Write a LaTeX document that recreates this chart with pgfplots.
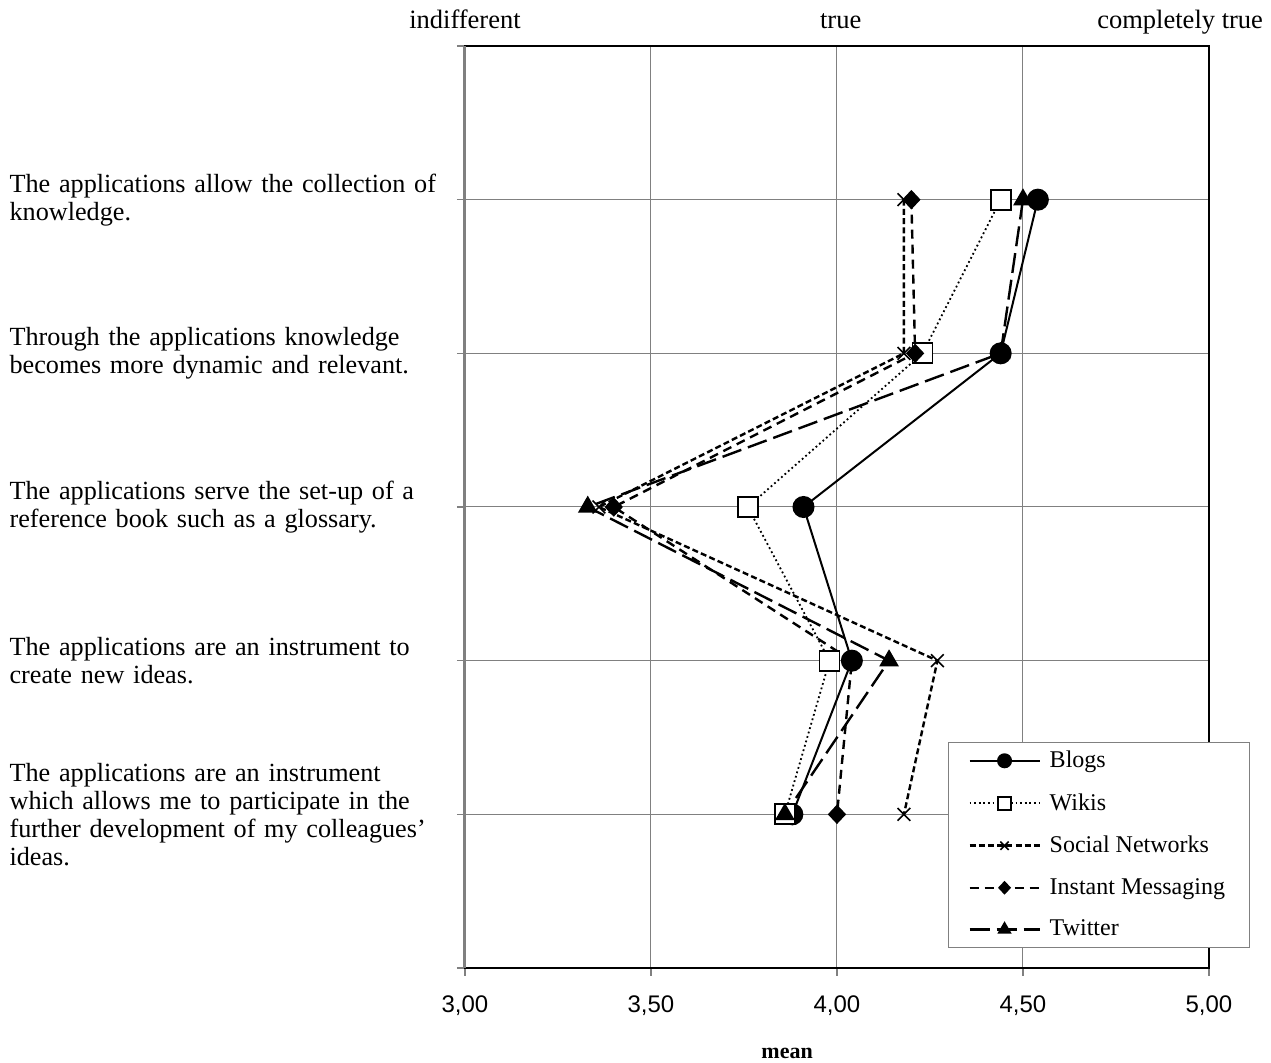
\documentclass[border=0pt]{standalone}
\usepackage{fontspec}
\setmainfont{Liberation Serif}
\newfontfamily\arial{Liberation Sans}
\usepackage{pgfplots}
\pgfplotsset{compat=1.18}
\definecolor{gridgray}{RGB}{128,128,128}
\begin{document}
\begin{tikzpicture}
\useasboundingbox (-232.5pt,-47.5pt) rectangle (403pt,484pt);
\begin{axis}[
  at={(0,0)}, anchor=south west,
  scale only axis, width=372pt, height=461pt,
  xmin=3, xmax=5, ymin=0, ymax=6, y dir=reverse,
  clip=false,
  xtick={3,3.5,4,4.5,5},
  ytick={0,1,2,3,4,5,6},
  yticklabels={{},
    {The applications allow the collection of\\knowledge.},
    {Through the applications knowledge\\becomes more dynamic and relevant.},
    {The applications serve the set-up of a\\reference book such as a glossary.},
    {The applications are an instrument to\\create new ideas.},
    {The applications are an instrument\\which allows me to participate in the\\further development of my colleagues'\\ideas.},
    {}},
  yticklabel style={anchor=east, align=left, text width=225pt, inner sep=0pt, xshift=1.5pt,
    font=\fontsize{13.1}{14}\selectfont},
  xticklabel style={anchor=base, yshift=-18.5pt, font=\arial\fontsize{12}{14}\selectfont},
  /pgf/number format/.cd, fixed, fixed zerofill, precision=2, use comma, assume math mode=true,
  /pgfplots/.cd,
  tick align=outside, tick pos=left,
  major tick length=4pt,
  tick style={gridgray, line width=0.75pt},
  grid=major,
  major grid style={gridgray, line width=0.5pt},
  axis line style={black, line width=1pt},
  legend style={at={(0.649,0.0217)}, anchor=south west, draw=gridgray, line width=0.5pt,
    fill=white, font=\fontsize{12}{14}\selectfont, inner xsep=10pt, inner ysep=2.3pt,
    row sep=7.4pt, column sep=2.5pt},
  legend cell align=left,
  legend image code/.code={\draw[mark repeat=2,mark phase=2,#1,every mark/.append style={scale=0.65}]
    plot coordinates {(1.5pt,0pt) (19pt,0pt) (36.5pt,0pt)};},
]
\addplot[black, line width=1pt, mark=*, mark size=5pt, mark options={solid, fill=black}]
  coordinates {(4.54,1) (4.44,2) (3.91,3) (4.04,4) (3.88,5)};
\addlegendentry{Blogs}
\addplot[black, line width=0.9pt, dash pattern=on 0.9pt off 1.4pt, mark=square*, mark size=5pt,
  mark options={solid, fill=white, line width=0.9pt}]
  coordinates {(4.44,1) (4.23,2) (3.76,3) (3.98,4) (3.86,5)};
\addlegendentry{Wikis}
\addplot[black, line width=1.2pt, dash pattern=on 3pt off 1.6pt, mark=x, mark size=4.5pt,
  mark options={solid, line width=0.8pt}]
  coordinates {(4.18,1) (4.18,2) (3.36,3) (4.27,4) (4.18,5)};
\addlegendentry{Social Networks}
\addplot[black, line width=1.2pt, dash pattern=on 4.5pt off 3pt, mark=diamond*, mark size=4pt,
  mark options={solid, fill=black, xscale=1.25}]
  coordinates {(4.20,1) (4.21,2) (3.40,3) (4.04,4) (4.00,5)};
\addlegendentry{Instant Messaging}
\addplot[black, line width=1.2pt, dash pattern=on 10pt off 3.5pt, mark=triangle*, mark size=4.5pt,
  mark options={solid, fill=black}]
  coordinates {(4.50,1) (4.44,2) (3.33,3) (4.14,4) (3.86,5)};
\addlegendentry{Twitter}
\draw[gridgray, line width=1.5pt] (rel axis cs:0,0) -- (rel axis cs:0,1);
\node[anchor=base, font=\fontsize{13.25}{14}\selectfont, yshift=9pt] at (axis cs:3,0) {indifferent};
\node[anchor=base, font=\fontsize{13.25}{14}\selectfont, yshift=9pt] at (axis cs:4.01,0) {true};
\node[anchor=base east, font=\fontsize{13.25}{14}\selectfont, yshift=9pt, xshift=30.5pt] at (axis cs:5,0) {completely true};
\node[anchor=base, font=\bfseries\fontsize{11}{13}\selectfont, yshift=-45.5pt] at (axis cs:3.866,6) {mean};
\end{axis}
\end{tikzpicture}
\end{document}
